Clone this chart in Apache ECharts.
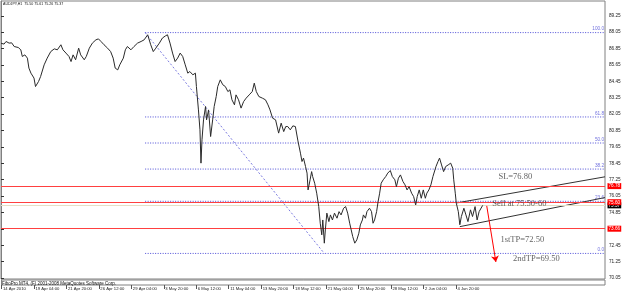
<!DOCTYPE html>
<html>
<head>
    <meta charset="utf-8">
    <title>AUDJPY,H1</title>
    <script src="https://cdn.jsdelivr.net/npm/echarts@6.0.0/dist/echarts.min.js"></script>
    <style>
        body { margin: 0; padding: 0; background: #fff; }
        #chart { width: 625px; height: 296px; }
    </style>
</head>
<body>
    <div id="chart"></div>
    <script>
        // H1 closes, x = bar number counted from 14 Apr 2010
        const barIndex = [
            0,6,10,16,21,26,29,34,39,42, 47,52,55,59,65,68,74,78,85,91,
            98,105,111,118,122,128,134,138,142,147, 153,157,164,168,174,180,187,192,197,203,
            210,216,221,225,230,234,241,245,249,256, 262,269,276,282,289,295,300,305,312,318,
            324,328,333,338,343,348,353,358,363,368, 372,378,383,385,389,392,394,396,399,403,
            405,409,413,417,420,424,427,432,437,442, 447,451,455,460,463,468,473,478,483,489,
            495,499,503,508,515,521,526,530,535,541, 547,552,557,561,565,570,575,580,585,590,
            593,596,600,603,605,609,612,614,618,622, 626,629,632,634,637,639,642,646,649,653,
            657,662,666,670,675,679,683,687,690,693, 697,701,705,708,712,714,718,721,726,730,
            733,736,740,743,746,749,753,758,762,767, 771,776,779,783,787,792,796,800,804,809,
            813,817,820,824,828,832,836,839,843,847, 851,857,861,864,868,872,876,881,886,890,
            892,895,897,901,904,907,912,916,920,925, 929,934,938,942,949
        ];
        const closes = [
            87.24,87.18,87.37,87.25,87.27,87.00,86.91,86.93,86.76,86.27, 86.39,86.15,85.42,85.05,84.69,84.07,84.44,84.80,85.66,86.15,
            86.63,86.83,86.76,87.13,86.76,86.52,86.27,85.90,86.39,86.03, 86.88,86.39,86.03,86.27,86.88,87.25,87.49,87.56,87.37,87.13,
            86.88,86.63,86.15,85.42,85.29,85.66,86.15,86.76,87.00,86.76, 87.00,87.25,87.37,87.49,87.86,87.13,86.63,86.88,87.25,87.62,
            87.78,87.86,87.25,86.52,85.90,86.15,86.52,86.27,85.66,85.05, 85.17,84.93,85.05,84.07,82.36,80.90,78.46,80.17,81.63,82.61,
            81.63,82.36,80.41,81.63,82.61,83.34,84.07,84.56,84.20,84.07, 83.70,83.83,83.10,82.73,83.46,83.10,82.49,82.97,83.22,83.46,
            83.70,84.32,83.70,83.34,83.22,83.10,82.73,82.36,81.76,81.63, 80.66,81.39,80.77,81.14,81.14,80.90,81.19,81.14,80.09,79.19,
            78.58,78.83,78.21,77.73,76.50,77.24,77.84,77.48,76.99,76.26, 75.28,74.06,73.21,74.30,72.60,73.57,74.80,74.18,74.67,74.30,
            74.80,74.43,74.91,74.67,75.16,75.28,74.80,74.06,73.57,73.08, 72.60,72.84,73.33,73.94,74.30,74.67,74.43,74.91,75.16,74.91,
            74.06,74.30,74.91,75.65,76.26,76.99,77.24,77.48,77.73,77.92, 77.48,77.24,76.74,77.36,77.60,77.11,76.87,76.50,76.74,76.26,
            76.01,75.40,76.01,76.50,75.89,76.50,75.89,76.26,76.50,76.87, 77.48,78.21,78.58,78.83,78.33,77.84,78.21,78.33,78.46,78.09,
            77.24,76.26,75.53,74.91,73.95,74.55,75.16,74.67,74.18,75.04, 74.55,75.28,74.30,74.91,75.37
        ];

        const dateTicks = [0, 64, 128, 192, 256, 320, 384, 448, 512, 576, 640, 704, 768, 832, 896];
        const dateLabels = ['14 Apr 2010', '19 Apr 04:00', '21 Apr 20:00', '26 Apr 12:00', '29 Apr 04:00',
            '3 May 20:00', '6 May 12:00', '11 May 04:00', '13 May 20:00', '18 May 12:00',
            '21 May 04:00', '25 May 20:00', '28 May 12:00', '2 Jun 04:00', '4 Jun 20:00'];
        const priceTicks = [70.05, 71.25, 72.45, 73.65, 74.85, 76.05, 77.25, 78.45, 79.65,
            80.85, 82.05, 83.25, 84.45, 85.65, 86.85, 88.05, 89.25];

        // fibo retracement
        const fibHigh = 88.02;
        const fibLow = 71.85;
        const fibLevels = [100.0, 61.8, 50.0, 38.2, 23.6, 0.0];
        const fibStartBar = 284;
        const fibEndBar = 637;

        const redLevels = [76.78, 75.60, 73.66];
        const bidPrice = 75.37;

        const upperChannel = [[898, 75.55], [1190, 77.46]];
        const lowerChannel = [[904, 73.81], [1190, 75.94]];
        const arrowPath = [[957, 75.33], [975, 71.23]];
        const notes = [
            [979, 77.46, 'SL=76.80'],
            [967, 75.51, 'Sell at 75.50-60'],
            [983, 72.84, '1stTP=72.50'],
            [1008, 71.45, '2ndTP=69.50']
        ];

        const lastBar = 1190;
        const sans = 'Liberation Sans';
        const fibColor = '#4c4cd6';

        const fibPrice = l => fibLow + (fibHigh - fibLow) * l / 100;

        const chart = echarts.init(document.getElementById('chart'));

        // one series per fibo level so every line keeps its own style
        const fibSeries = fibLevels.map(l => ({
            name: 'fib ' + l.toFixed(1), type: 'line', symbol: 'none', silent: true,
            data: [[fibStartBar, fibPrice(l)], [lastBar, fibPrice(l)]],
            lineStyle: { color: fibColor, type: [1, 1.5], width: 1 },
            z: 3
        }));
        fibSeries.push({
            name: 'fib trend', type: 'line', symbol: 'none', silent: true,
            data: [[fibStartBar, fibHigh], [fibEndBar, fibLow]],
            lineStyle: { color: '#7c7ce0', type: [2, 2], width: 1 },
            z: 3
        });
        fibSeries.push({
            name: 'fib labels', type: 'scatter', symbolSize: 1, silent: true,
            data: fibLevels.map(l => [lastBar, fibPrice(l), l.toFixed(1)]),
            itemStyle: { color: 'rgba(0,0,0,0)' },
            label: {
                show: true, position: 'top', align: 'right', distance: 0.5,
                formatter: p => p.data[2], offset: [-1, 0],
                color: fibColor, fontSize: 4.7, fontFamily: sans
            },
            z: 3
        });

        const levelLines = redLevels.map(p => ({
            yAxis: p,
            lineStyle: { color: '#ff4040', type: 'solid', width: 1 },
            label: { formatter: p.toFixed(2), backgroundColor: '#ff0000' }
        }));
        levelLines.unshift({
            yAxis: bidPrice,
            lineStyle: { color: '#e6dfc6', type: 'solid', width: 1 },
            label: { formatter: bidPrice.toFixed(2), backgroundColor: '#000' }
        });

        const option = {
            animation: false,
            backgroundColor: '#fff',
            grid: [
                { left: 1, right: 20, top: 1, height: 278, show: true, borderColor: '#808080', borderWidth: 1 },
                { left: 1, right: 20, top: 280, height: 5, show: true, borderColor: '#808080', borderWidth: 1 }
            ],
            xAxis: [
                {
                    type: 'value', gridIndex: 0, min: 0, max: lastBar,
                    axisLine: { show: false }, axisTick: { show: false },
                    axisLabel: { show: false }, splitLine: { show: false }
                },
                {
                    type: 'value', gridIndex: 1, min: 0, max: lastBar,
                    axisLine: { show: false },
                    axisTick: { show: true, customValues: dateTicks, length: 4, lineStyle: { color: '#555' } },
                    axisLabel: {
                        customValues: dateTicks,
                        formatter: v => dateLabels[Math.round(v / 64)],
                        align: 'left', padding: [0, 0, 0, 1.5], margin: 2,
                        fontSize: 4.2, color: '#222', fontFamily: sans
                    },
                    splitLine: { show: false }
                }
            ],
            yAxis: [
                {
                    type: 'value', gridIndex: 0, position: 'right',
                    min: 69.977, max: 90.334,
                    axisLine: { show: true, lineStyle: { color: '#808080' } },
                    axisTick: { show: true, customValues: priceTicks, length: 3, lineStyle: { color: '#333' } },
                    axisLabel: {
                        customValues: priceTicks,
                        formatter: v => v.toFixed(2),
                        margin: 4, fontSize: 4.7, color: '#222', fontFamily: sans
                    },
                    splitLine: { show: false }
                },
                {
                    type: 'value', gridIndex: 1, position: 'right', min: 0, max: 1,
                    axisLine: { show: true, lineStyle: { color: '#808080' } },
                    axisTick: { show: false }, axisLabel: { show: false }, splitLine: { show: false }
                }
            ],
            series: [
                {
                    name: 'levels', type: 'line', data: [],
                    markLine: {
                        silent: true, symbol: 'none',
                        label: {
                            position: 'end', distance: 2.5, color: '#fff',
                            fontSize: 4.7, fontFamily: sans, padding: [0.5, 1]
                        },
                        data: levelLines
                    },
                    z: 2
                },
                ...fibSeries,
                {
                    name: 'AUDJPY', type: 'line', symbol: 'none',
                    data: barIndex.map((b, i) => [b, closes[i]]),
                    lineStyle: { color: '#2a2a2a', width: 1 },
                    z: 5
                },
                {
                    name: 'upper', type: 'line', symbol: 'none', data: upperChannel,
                    lineStyle: { color: '#333', width: 1 }, z: 4
                },
                {
                    name: 'lower', type: 'line', symbol: 'none', data: lowerChannel,
                    lineStyle: { color: '#333', width: 1 }, z: 4
                },
                {
                    name: 'arrow', type: 'line', data: [],
                    markLine: {
                        silent: true, symbol: ['none', 'arrow'], symbolSize: 6,
                        label: { show: false },
                        data: [[
                            { coord: arrowPath[0], lineStyle: { color: '#ff0000', type: 'solid', width: 1 } },
                            { coord: arrowPath[1] }
                        ]]
                    },
                    z: 6
                },
                {
                    name: 'notes', type: 'scatter', data: notes, symbolSize: 1,
                    itemStyle: { color: 'rgba(0,0,0,0)' },
                    label: {
                        show: true, position: 'right', distance: 0,
                        formatter: p => p.data[2],
                        fontFamily: 'Liberation Serif', fontSize: 8.5, color: '#3a3a3a'
                    },
                    z: 7
                }
            ],
            graphic: [
                {
                    type: 'text', left: 3, top: 2,
                    style: { text: 'AUDJPY,H1  75.50 75.61 75.26 75.37', fontSize: 3.6, fill: '#111', fontFamily: sans }
                },
                {
                    type: 'text', left: 2, top: 281,
                    style: { text: 'FiboPro MT4, (F) 2001-2008 MetaQuotes Software Corp.', fontSize: 4.5, fill: '#111', fontFamily: sans }
                }
            ]
        };

        chart.setOption(option);
    </script>
</body>
</html>
